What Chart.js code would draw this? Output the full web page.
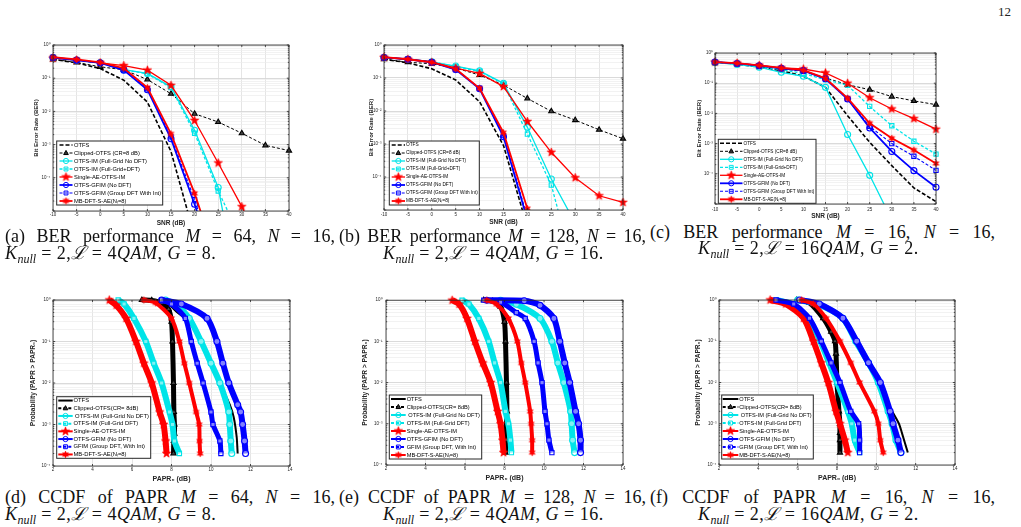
<!DOCTYPE html>
<html>
<head>
<meta charset="utf-8">
<script src="https://cdn.jsdelivr.net/npm/chart.js@4.4.0/dist/chart.umd.min.js"></script>
<style>
  html, body { margin: 0; padding: 0; background: #fff; }
  body { width: 1021px; height: 527px; position: relative; overflow: hidden; }
  canvas { position: absolute; }
  .cap { position: absolute; font-family: "Liberation Serif", "DejaVu Serif", serif; font-size: 18px; color: #111; white-space: nowrap; line-height: 18px; }
  .l1 { white-space: normal; text-align: justify; text-align-last: justify; }
  .l2 { letter-spacing: 0.5px; }
  .cap sub { font-size: 12px; vertical-align: -4px; line-height: 0; letter-spacing: 0; }
  #page { position: absolute; left: 998px; top: 4px; font-family: "Liberation Serif", serif; font-size: 13px; color: #222; }
</style>
</head>
<body>
<div id="page">12</div>
<canvas id="cA"></canvas>
<canvas id="cB"></canvas>
<canvas id="cC"></canvas>
<canvas id="cD"></canvas>
<canvas id="cE"></canvas>
<canvas id="cF"></canvas>

<div class="cap l1" style="left:5px;top:227px;width:330px">(a) BER performance <i>M</i> = 64, <i>N</i> = 16,</div>
<div class="cap l2" style="left:5px;top:244px"><i>K</i><sub><i>null</i></sub> = 2,<i>ℒ</i> = 4<i>QAM</i>, <i>G</i> = 8.</div>
<div class="cap l1" style="left:339px;top:227px;width:307px">(b) BER performance <i>M</i> = 128, <i>N</i> = 16,</div>
<div class="cap l2" style="left:383px;top:244px"><i>K</i><sub><i>null</i></sub> = 2,<i>ℒ</i> = 4<i>QAM</i>, <i>G</i> = 16.</div>
<div class="cap l1" style="left:650px;top:223px;width:345px">(c) BER performance <i>M</i> = 16, <i>N</i> = 16,</div>
<div class="cap l2" style="left:698px;top:239px"><i>K</i><sub><i>null</i></sub> = 2,<i>ℒ</i> = 16<i>QAM</i>, <i>G</i> = 2.</div>

<div class="cap l1" style="left:5px;top:488px;width:330px">(d) CCDF of PAPR <i>M</i> = 64, <i>N</i> = 16,</div>
<div class="cap l2" style="left:5px;top:505px"><i>K</i><sub><i>null</i></sub> = 2,<i>ℒ</i> = 4<i>QAM</i>, <i>G</i> = 8.</div>
<div class="cap l1" style="left:339px;top:488px;width:307px">(e) CCDF of PAPR <i>M</i> = 128, <i>N</i> = 16,</div>
<div class="cap l2" style="left:383px;top:505px"><i>K</i><sub><i>null</i></sub> = 2,<i>ℒ</i> = 4<i>QAM</i>, <i>G</i> = 16.</div>
<div class="cap l1" style="left:650px;top:488px;width:345px">(f) CCDF of PAPR <i>M</i> = 16, <i>N</i> = 16,</div>
<div class="cap l2" style="left:698px;top:505px"><i>K</i><sub><i>null</i></sub> = 2,<i>ℒ</i> = 16<i>QAM</i>, <i>G</i> = 2.</div>

<script>
// SNR grid shared by the three BER plots
const snr = [-10, -5, 0, 5, 10, 15, 20, 25, 30, 35, 40]

// (a) BER, M = 64
const berA_otfs = [0.37, 0.29, 0.195, 0.087, 0.019, 6.2e-4, 1.7e-6]
const berA_clip = [0.37, 0.30, 0.22, 0.18, 0.091, 0.034, 0.0085, 0.0048, 0.0022, 9.5e-4, 6.6e-4]
const berA_imNoDft = [0.42, 0.35, 0.29, 0.18, 0.14, 0.055, 0.0027, 5.1e-5, 1e-8]
const berA_imDft = [0.42, 0.35, 0.29, 0.18, 0.135, 0.052, 0.0022, 4.0e-5, 1.3e-6]
const berA_single = [0.40, 0.35, 0.29, 0.24, 0.175, 0.061, 0.0053, 2.8e-4, 1.35e-5, 5e-7]
const berA_gfim = [0.42, 0.35, 0.29, 0.175, 0.045, 0.0015, 1.6e-5, 1e-7]
const berA_gfimDft = [0.42, 0.35, 0.29, 0.18, 0.048, 0.0017, 2.2e-5, 1.5e-7]
const berA_mb = [0.43, 0.37, 0.30, 0.20, 0.052, 0.0021, 3.4e-5, 2.5e-7]

// (b) BER, M = 128
const berB_otfs = [0.37, 0.29, 0.19, 0.087, 0.019, 9e-4, 3e-6]
const berB_clip = [0.37, 0.30, 0.27, 0.20, 0.123, 0.061, 0.024, 0.0098, 0.0053, 0.0027, 0.00145]
const berB_imNoDft = [0.42, 0.37, 0.31, 0.23, 0.165, 0.069, 0.0032, 8.7e-5, 4e-6]
const berB_imDft = [0.42, 0.37, 0.31, 0.22, 0.16, 0.066, 0.0020, 5.7e-5, 1.1e-7]
const berB_single = [0.42, 0.37, 0.30, 0.20, 0.138, 0.055, 0.0048, 5.6e-4, 9.5e-5, 2.7e-5, 1.7e-5]
const berB_gfim = [0.42, 0.37, 0.30, 0.18, 0.047, 0.00166, 5e-6]
const berB_gfimDft = [0.42, 0.37, 0.30, 0.18, 0.049, 0.0018, 6e-6]
const berB_mb = [0.43, 0.37, 0.30, 0.19, 0.049, 0.0022, 1.1e-5, 1e-8]

// (c) BER, M = 16, 16QAM
const berC_otfs = [0.50, 0.43, 0.34, 0.26, 0.17, 0.073, 0.0084, 0.0011, 1.86e-4, 3.4e-5, 1.2e-5]
const berC_clip = [0.50, 0.45, 0.37, 0.30, 0.247, 0.15, 0.089, 0.061, 0.036, 0.026, 0.0195]
const berC_imNoDft = [0.48, 0.42, 0.34, 0.23, 0.17, 0.073, 0.0020, 8.9e-5, 3e-6]
const berC_imDft = [0.48, 0.43, 0.36, 0.28, 0.21, 0.13, 0.085, 0.017, 0.0039, 0.0012, 4.5e-4]
const berC_single = [0.50, 0.46, 0.39, 0.32, 0.295, 0.22, 0.10, 0.033, 0.014, 0.0067, 0.0030]
const berC_gfim = [0.50, 0.45, 0.38, 0.31, 0.26, 0.14, 0.030, 0.0033, 5.5e-4, 1.27e-4, 3.6e-5]
const berC_gfimDft = [0.50, 0.45, 0.38, 0.31, 0.26, 0.14, 0.030, 0.0037, 0.0010, 3.8e-4, 1.3e-4]
const berC_mb = [0.50, 0.46, 0.39, 0.32, 0.27, 0.145, 0.032, 0.0047, 0.0015, 6.1e-4, 2.2e-4]

// CCDF curves as [PAPR0 dB, probability] pairs
// (d) M = 64
const paprD_otfs = [[6.5, 1], [7.3, 0.97], [7.9, 0.75], [8.3, 0.5], [8.9, 0.3], [9.5, 0.1], [10.0, 0.03], [10.45, 0.01], [10.95, 0.003], [11.15, 0.0015], [11.3, 5e-4], [11.35, 2e-4]]
const paprD_clip = [[6.5, 1], [7.0, 0.98], [7.5, 0.85], [7.85, 0.6], [8.0, 0.3], [8.05, 0.1], [8.1, 0.01], [8.12, 0.002], [8.15, 0.001], [8.15, 6e-4], [8.12, 4e-4], [8.1, 2e-4]]
const paprD_imNoDft = [[7.7, 1], [8.2, 0.8], [8.9, 0.36], [9.5, 0.1], [10.0, 0.03], [10.45, 0.01], [10.9, 0.002], [10.95, 0.001], [11.0, 4e-4], [11.05, 2e-4]]
const paprD_imDft = [[5.3, 1], [5.6, 0.8], [6.1, 0.36], [6.7, 0.1], [7.1, 0.03], [7.5, 0.01], [7.9, 0.002], [8.05, 0.001], [8.15, 4e-4], [8.4, 2e-4]]
const paprD_single = [[4.85, 1], [5.2, 0.75], [5.7, 0.36], [6.2, 0.1], [6.6, 0.03], [7.0, 0.01], [7.4, 0.002], [7.6, 0.001], [7.7, 4e-4], [7.75, 2e-4]]
const paprD_gfim = [[7.5, 1], [8.5, 0.8], [9.8, 0.36], [10.3, 0.1], [10.6, 0.03], [10.9, 0.01], [11.35, 0.003], [11.5, 0.002], [11.6, 0.001], [11.7, 4e-4], [11.75, 2e-4]]
const paprD_gfimDft = [[7.5, 1], [8.0, 0.8], [8.7, 0.36], [9.0, 0.1], [9.3, 0.03], [9.6, 0.01], [10.0, 0.002], [10.1, 0.001], [10.45, 4e-4], [10.5, 2e-4]]
const paprD_mb = [[6.6, 1], [7.2, 0.85], [8.0, 0.36], [8.4, 0.1], [8.65, 0.03], [8.9, 0.01], [9.25, 0.002], [9.4, 0.001], [9.42, 4e-4], [9.45, 2e-4]]

// (e) M = 128
const paprE_otfs = [[6.95, 1], [7.6, 0.97], [8.3, 0.88], [8.8, 0.75], [9.8, 0.36], [10.4, 0.1], [10.75, 0.03], [11.05, 0.01], [11.35, 0.002], [11.42, 0.001], [11.45, 4e-4], [11.45, 2e-4]]
const paprE_clip = [[6.95, 1], [7.4, 0.95], [7.8, 0.7], [8.0, 0.3], [8.05, 0.1], [8.1, 0.01], [8.12, 0.002], [8.1, 0.001], [8.1, 4e-4], [8.05, 2e-4]]
const paprE_imNoDft = [[7.8, 1], [8.6, 0.8], [9.8, 0.36], [10.4, 0.1], [10.7, 0.03], [11.0, 0.01], [11.35, 0.002], [11.4, 0.001], [11.45, 4e-4], [11.55, 2e-4]]
const paprE_imDft = [[5.85, 1], [6.2, 0.8], [6.7, 0.36], [7.2, 0.1], [7.5, 0.03], [7.8, 0.01], [8.05, 0.002], [8.2, 0.001], [8.3, 4e-4], [8.35, 2e-4]]
const paprE_single = [[5.35, 1], [5.7, 0.8], [6.1, 0.36], [6.5, 0.1], [6.9, 0.03], [7.3, 0.01], [7.65, 0.002], [7.8, 0.001], [7.9, 4e-4], [7.95, 2e-4]]
const paprE_gfim = [[7.1, 1], [9.0, 0.97], [9.8, 0.75], [10.5, 0.36], [10.8, 0.1], [11.05, 0.03], [11.3, 0.01], [11.6, 0.002], [11.75, 0.001], [11.85, 4e-4], [11.85, 2e-4]]
const paprE_gfimDft = [[6.95, 1], [7.8, 0.9], [8.6, 0.5], [9.05, 0.36], [9.5, 0.1], [9.7, 0.03], [9.9, 0.01], [10.05, 0.002], [10.15, 0.001], [10.25, 4e-4], [10.4, 2e-4]]
const paprE_mb = [[7.1, 1], [7.6, 0.8], [8.2, 0.36], [8.65, 0.1], [8.85, 0.03], [9.05, 0.01], [9.3, 0.002], [9.35, 0.001], [9.4, 4e-4], [9.4, 2e-4]]

// (f) M = 16, 16QAM
const paprF_otfs = [[6.0, 1], [7.0, 0.8], [8.2, 0.36], [8.9, 0.1], [9.5, 0.03], [10.1, 0.01], [10.6, 0.003], [11.15, 0.001], [11.3, 6e-4], [11.6, 2e-4]]
const paprF_clip = [[5.95, 1], [6.6, 0.85], [7.3, 0.36], [7.7, 0.17], [7.9, 0.1], [7.95, 0.05], [8.0, 0.01], [8.1, 0.002], [8.15, 0.001], [8.15, 6e-4], [8.15, 4e-4], [8.15, 2e-4]]
const paprF_imNoDft = [[6.0, 1], [7.0, 0.8], [8.3, 0.36], [8.95, 0.1], [9.6, 0.03], [10.1, 0.01], [10.6, 0.002], [10.8, 0.001], [11.0, 4e-4], [11.25, 2e-4]]
const paprF_imDft = [[4.9, 1], [5.7, 0.8], [6.55, 0.36], [7.15, 0.1], [7.6, 0.03], [8.0, 0.01], [8.55, 0.002], [8.75, 0.001], [8.9, 4e-4], [9.15, 2e-4]]
const paprF_single = [[4.6, 1], [5.4, 0.8], [6.3, 0.36], [6.8, 0.1], [7.2, 0.03], [7.55, 0.01], [7.95, 0.002], [8.15, 0.001], [8.4, 4e-4], [8.55, 2e-4]]
const paprF_gfim = [[6.1, 1], [7.1, 0.8], [8.3, 0.36], [9.0, 0.1], [9.6, 0.03], [10.2, 0.01], [10.7, 0.002], [10.85, 0.001], [11.1, 4e-4], [11.25, 2e-4]]
const paprF_gfimDft = [[4.9, 1], [5.8, 0.8], [6.6, 0.36], [7.2, 0.1], [7.7, 0.03], [8.15, 0.01], [8.7, 0.002], [9.1, 0.001], [9.15, 4e-4], [9.15, 2e-4]]
const paprF_mb = [[6.2, 1], [6.8, 0.8], [7.45, 0.36], [8.15, 0.1], [8.7, 0.03], [9.15, 0.01], [9.9, 0.002], [10.1, 0.001], [10.2, 4e-4], [10.35, 2e-4]]

const berLabels = ['OTFS', 'Clipped-OTFS (CR=8 dB)', 'OTFS-IM (Full-Grid No DFT)', 'OTFS-IM (Full-Grid+DFT)',
  'Single-AE-OTFS-IM', 'OTFS-GFIM (No DFT)', 'OTFS-GFIM (Group DFT With Int)', 'MB-DFT-S-AE(Nₗ=8)']
const paprLabels = ['OTFS', 'Clipped-OTFS(CR= 8dB)', ' OTFS-IM (Full-Grid No DFT)', 'OTFS-IM (Full-Grid DFT)',
  'Single-AE-OTFS-IM', 'OTFS-GFIM (No DFT)', 'GFIM (Group DFT, With Int)', 'MB-DFT-S-AE(Nₗ=8)']

const chartFont = '"Liberation Sans", Arial, sans-serif'
const cyan = 'rgb(0,228,232)'
const supMap = { '0': '⁰', '1': '¹', '2': '²', '3': '³', '4': '⁴', '5': '⁵', '6': '⁶', '7': '⁷', '8': '⁸', '9': '⁹', '-': '⁻' }

function starPath(g, cx, cy, r, n, inner) {
  g.beginPath()
  for (let k = 0; k < 2 * n; k++) {
    const rr = k % 2 === 0 ? r : r * inner
    const a = -Math.PI / 2 + k * Math.PI / n
    const px = cx + rr * Math.cos(a), py = cy + rr * Math.sin(a)
    if (k === 0) g.moveTo(px, py)
    else g.lineTo(px, py)
  }
  g.closePath()
}

function starImage(r, n, inner, color) {
  const c = document.createElement('canvas')
  const s = Math.ceil(r * 2 + 2)
  c.width = s
  c.height = s
  const g = c.getContext('2d')
  starPath(g, s / 2, s / 2, r, n, inner)
  g.fillStyle = color
  g.fill()
  g.strokeStyle = color
  g.lineWidth = 0.6
  g.stroke()
  return c
}

const star5 = starImage(4.5, 5, 0.42, '#ff0000')
const star6 = starImage(3.4, 6, 0.5, '#ff0000')

// line style, marker for each series (same order as the labels)
const berStyles = [
  { color: '#000', dash: [4, 2], width: 1.6, marker: null },
  { color: '#000', dash: [3, 2], width: 1, marker: 'triangle' },
  { color: cyan, dash: [], width: 1.3, marker: 'circle' },
  { color: cyan, dash: [3, 2], width: 1.3, marker: 'rect' },
  { color: '#ff0000', dash: [], width: 1.3, marker: star5 },
  { color: '#0000ff', dash: [], width: 1.8, marker: 'circle' },
  { color: '#0000ff', dash: [3, 2], width: 1.1, marker: 'rect' },
  { color: '#ff0000', dash: [], width: 1.8, marker: star6 }
]
const paprStyles = [
  { color: '#000', dash: [], width: 2, marker: null },
  { color: '#000', dash: [3, 2], width: 5, marker: 'triangle' },
  { color: cyan, dash: [], width: 6, marker: 'circle' },
  { color: cyan, dash: [3, 2], width: 6, marker: 'rect' },
  { color: '#ff0000', dash: [], width: 6, marker: star5 },
  { color: '#0000ff', dash: [], width: 6, marker: 'circle' },
  { color: '#0000ff', dash: [3, 2], width: 5, marker: 'rect' },
  { color: '#ff0000', dash: [], width: 4, marker: star6 }
]

function isMajor(v) {
  const l = Math.log10(v)
  return Math.abs(l - Math.round(l)) < 1e-6
}

function logTicks(minExp) {
  let t = []
  for (let e = minExp; e < 0; e++) {
    for (let m = 1; m < 10; m++) t.push({ value: m * Math.pow(10, e) })
  }
  t.push({ value: 1 })
  return t
}

function drawMarker(g, m, x, y, color, r) {
  if (!m) return
  if (typeof m !== 'string') {
    g.drawImage(m, x - m.width / 2, y - m.height / 2)
    return
  }
  g.beginPath()
  if (m === 'circle') g.arc(x, y, r, 0, 2 * Math.PI)
  else if (m === 'rect') g.rect(x - r * 0.75, y - r * 0.75, r * 1.5, r * 1.5)
  else if (m === 'triangle') {
    g.moveTo(x, y - r)
    g.lineTo(x + r * 0.9, y + r * 0.6)
    g.lineTo(x - r * 0.9, y + r * 0.6)
    g.closePath()
  }
  g.setLineDash([])
  g.strokeStyle = color
  g.lineWidth = 1
  if (m === 'triangle') {
    g.fillStyle = '#333'
    g.fill()
  }
  g.stroke()
}

// axes box, inner tick marks and the legend inside the plot
const boxPlugin = {
  id: 'box',
  afterDraw(chart, args, o) {
    const g = chart.ctx
    const a = chart.chartArea
    g.save()
    g.setLineDash([])
    g.strokeStyle = '#262626'
    g.lineWidth = 0.8
    g.strokeRect(a.left, a.top, a.right - a.left, a.bottom - a.top)
    const xs = chart.scales.x, ys = chart.scales.y
    g.beginPath()
    xs.ticks.forEach(t => {
      const px = xs.getPixelForValue(t.value)
      g.moveTo(px, a.bottom); g.lineTo(px, a.bottom - 2)
      g.moveTo(px, a.top); g.lineTo(px, a.top + 2)
    })
    ys.ticks.forEach(t => {
      const py = ys.getPixelForValue(t.value)
      const len = isMajor(t.value) ? 2.2 : 1.2
      g.moveTo(a.left, py); g.lineTo(a.left + len, py)
      g.moveTo(a.right, py); g.lineTo(a.right - len, py)
    })
    g.stroke()

    // legend
    const bx = o.x - o.cx, by = o.y - o.cy
    g.fillStyle = '#fff'
    g.fillRect(bx, by, o.w, o.h)
    g.strokeStyle = '#262626'
    g.lineWidth = 1
    g.strokeRect(bx, by, o.w, o.h)
    const tx = o.textX - o.cx
    g.font = '10px ' + chartFont
    let widest = 0
    o.labels.forEach(l => { widest = Math.max(widest, g.measureText(l).width) })
    const fs = Math.min(7, 10 * (bx + o.w - tx - 1.5) / widest)
    g.font = fs + 'px ' + chartFont
    g.textBaseline = 'middle'
    const rowH = o.h / o.labels.length
    o.labels.forEach((l, i) => {
      const st = o.styles[i]
      const ry = by + rowH * (i + 0.5)
      const l0 = o.lineX0 - o.cx, l1 = o.lineX1 - o.cx
      g.beginPath()
      g.setLineDash(st.dash)
      g.strokeStyle = st.color
      g.lineWidth = Math.min(st.width, 2)
      g.moveTo(l0, ry)
      g.lineTo(l1, ry)
      g.stroke()
      drawMarker(g, st.marker, (l0 + l1) / 2, ry, st.color, 2.6)
      g.fillStyle = '#000'
      g.fillText(l, tx, ry)
    })
    g.restore()
  }
}

function makeChart(id, p, datasets, labels, styles) {
  const canvas = document.getElementById(id)
  const yLh = p.yTitleSize * 1.2
  const xLh = p.xTitleSize * 1.2
  const cLeft = Math.floor(p.yTitleX - yLh / 2 - 1)
  const cTop = p.plotT - 6
  const yW = p.plotL - cLeft
  const W = Math.round(yW + (p.plotR - p.plotL) + 10)
  const H = Math.round(p.xTitleY + xLh / 2 + 1 - cTop)
  const xH = H - 6 - (p.plotB - p.plotT)
  canvas.width = W
  canvas.height = H
  canvas.style.left = cLeft + 'px'
  canvas.style.top = cTop + 'px'

  const minExp = Math.round(Math.log10(p.yMin))
  new Chart(canvas, {
    type: 'line',
    data: { datasets: datasets },
    options: {
      responsive: false,
      animation: false,
      devicePixelRatio: 1,
      layout: { padding: { top: 6, right: 10, left: 0, bottom: 0 } },
      plugins: {
        legend: { display: false },
        tooltip: { enabled: false },
        box: Object.assign({ cx: cLeft, cy: cTop, labels: labels, styles: styles }, p.legend)
      },
      scales: {
        x: {
          type: 'linear',
          min: p.xMin,
          max: p.xMax,
          afterFit: s => { s.height = xH },
          ticks: {
            stepSize: p.xStep,
            autoSkip: false,
            maxRotation: 0,
            padding: p.xLabelY - p.plotB - p.tickSize * 0.6,
            color: '#262626',
            font: { size: p.tickSize, family: chartFont }
          },
          grid: { drawTicks: false, color: '#dedede', lineWidth: 0.8 },
          border: { display: false },
          title: {
            display: true,
            text: p.xTitle,
            color: '#262626',
            padding: { top: 0, bottom: 1 },
            font: { size: p.xTitleSize, weight: 'bold', family: chartFont }
          }
        },
        y: {
          type: 'logarithmic',
          min: p.yMin,
          max: 1,
          afterFit: s => { s.width = yW },
          afterBuildTicks: s => { s.ticks = logTicks(minExp) },
          ticks: {
            autoSkip: false,
            padding: p.plotL - p.yLabelRight,
            color: '#262626',
            font: { size: p.tickSize, family: chartFont },
            callback: v => {
              if (!isMajor(v)) return ''
              const e = Math.round(Math.log10(v))
              if (p.hideMin && e === minExp) return ''
              return '10' + String(e).split('').map(c => supMap[c]).join('')
            }
          },
          grid: {
            drawTicks: false,
            color: c => isMajor(c.tick.value) ? '#d6d6d6' : '#ececec',
            lineWidth: c => isMajor(c.tick.value) ? 0.9 : 0.7
          },
          border: { display: false },
          title: {
            display: true,
            text: p.yTitle,
            color: '#262626',
            padding: { top: p.yTitleX - yLh / 2 - cLeft, bottom: 0 },
            font: { size: p.yTitleSize, weight: 'bold', family: chartFont }
          }
        }
      }
    },
    plugins: [boxPlugin]
  })
}

function pointStyleOf(st) {
  return st.marker === null ? false : st.marker
}

function berSets(series) {
  return series.map((arr, i) => {
    const st = berStyles[i]
    return {
      data: arr.map((v, k) => ({ x: snr[k], y: v })),
      borderColor: st.color,
      borderWidth: st.width,
      borderDash: st.dash,
      pointStyle: pointStyleOf(st),
      pointRadius: st.marker === null ? 0 : 3,
      pointBorderColor: st.color,
      pointBackgroundColor: st.marker === 'triangle' ? '#444' : 'rgba(0,0,0,0)',
      pointBorderWidth: 1.1,
      tension: 0,
      order: 7 - i,
      clip: { left: 6, right: 6, top: 6, bottom: 0 }
    }
  })
}

function paprSets(series) {
  return series.map((arr, i) => {
    const st = paprStyles[i]
    return {
      data: arr.map(pr => ({ x: pr[0], y: pr[1] })),
      borderColor: st.color,
      borderWidth: st.width,
      borderDash: [],
      pointStyle: pointStyleOf(st),
      pointRadius: st.marker === null ? 0 : 3,
      pointBorderColor: st.color,
      pointBackgroundColor: st.marker === 'triangle' ? '#444' : 'rgba(255,255,255,0.5)',
      pointBorderWidth: 1.1,
      tension: 0.25,
      order: 7 - i,
      clip: { left: 6, right: 6, top: 6, bottom: 0 }
    }
  })
}

const berBase = { xMin: -10, xMax: 40, xStep: 5, yMin: 1e-5, hideMin: true, tickSize: 4.5,
  xTitle: 'SNR (dB)', yTitle: 'Bit Error Rate (BER)', xTitleSize: 6.5, yTitleSize: 6 }
const paprBase = { xMin: 2, xMax: 14, xStep: 2, yMin: 1e-4, hideMin: false, tickSize: 4.5,
  xTitle: 'PAPR₀ (dB)', yTitle: 'Probability (PAPR > PAPR₀)', xTitleSize: 7, yTitleSize: 6.6 }

makeChart('cA', Object.assign({}, berBase, {
  plotL: 53, plotR: 289, plotT: 45, plotB: 211, yTitleX: 36, yLabelRight: 50.5, xLabelY: 215, xTitleY: 223,
  legend: { x: 56.7, y: 141, w: 106, h: 64, lineX0: 59.5, lineX1: 72.5, textX: 74 }
}), berSets([berA_otfs, berA_clip, berA_imNoDft, berA_imDft, berA_single, berA_gfim, berA_gfimDft, berA_mb]), berLabels, berStyles)

makeChart('cB', Object.assign({}, berBase, {
  plotL: 384, plotR: 623, plotT: 45, plotB: 210, yTitleX: 371, yLabelRight: 381.5, xLabelY: 214.5, xTitleY: 222.5,
  legend: { x: 389.3, y: 141, w: 90, h: 64, lineX0: 391.7, lineX1: 405, textX: 406 }
}), berSets([berB_otfs, berB_clip, berB_imNoDft, berB_imDft, berB_single, berB_gfim, berB_gfimDft, berB_mb]), berLabels, berStyles)

makeChart('cC', Object.assign({}, berBase, {
  plotL: 715, plotR: 936, plotT: 53, plotB: 204, yTitleX: 699, yLabelRight: 713, xLabelY: 209.5, xTitleY: 216.5,
  legend: { x: 718.3, y: 139.3, w: 97.7, h: 64, lineX0: 720, lineX1: 742.5, textX: 743.5 }
}), berSets([berC_otfs, berC_clip, berC_imNoDft, berC_imDft, berC_single, berC_gfim, berC_gfimDft, berC_mb]), berLabels, berStyles)

makeChart('cD', Object.assign({}, paprBase, {
  plotL: 53, plotR: 290, plotT: 300, plotB: 466, yTitleX: 33.5, yLabelRight: 50.5, xLabelY: 470, xTitleY: 478.5,
  legend: { x: 56.7, y: 396.7, w: 94, h: 61.6, lineX0: 58.3, lineX1: 72.7, textX: 73.5 }
}), paprSets([paprD_otfs, paprD_clip, paprD_imNoDft, paprD_imDft, paprD_single, paprD_gfim, paprD_gfimDft, paprD_mb]), paprLabels, paprStyles)

makeChart('cE', Object.assign({}, paprBase, {
  plotL: 386, plotR: 623, plotT: 300, plotB: 465, yTitleX: 365, yLabelRight: 382.5, xLabelY: 469, xTitleY: 477.5,
  legend: { x: 389.3, y: 395, w: 92.4, h: 64, lineX0: 391, lineX1: 405.7, textX: 406.7 }
}), paprSets([paprE_otfs, paprE_clip, paprE_imNoDft, paprE_imDft, paprE_single, paprE_gfim, paprE_gfimDft, paprE_mb]), paprLabels, paprStyles)

makeChart('cF', Object.assign({}, paprBase, {
  plotL: 719, plotR: 955, plotT: 300, plotB: 465, yTitleX: 698, yLabelRight: 716.5, xLabelY: 469, xTitleY: 477.5,
  legend: { x: 721.7, y: 395, w: 91.6, h: 64, lineX0: 722.7, lineX1: 738.3, textX: 739.3 }
}), paprSets([paprF_otfs, paprF_clip, paprF_imNoDft, paprF_imDft, paprF_single, paprF_gfim, paprF_gfimDft, paprF_mb]), paprLabels, paprStyles)
</script>
</body>
</html>
